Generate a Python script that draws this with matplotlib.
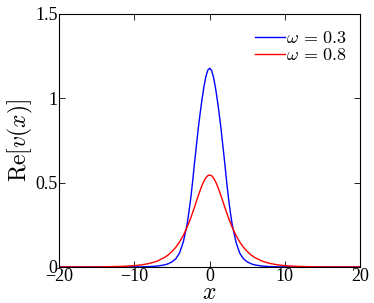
"""Real part of the soliton profile v(x) for two frequencies."""

import matplotlib
matplotlib.use("Agg")
import matplotlib.pyplot as plt

# values
X = [-20, -18, -16, -14, -12, -11, -10, -9, -8, -7, -6, -5.5, -5, -4.5, -4, -3.5,
     -3, -2.75, -2.5, -2.25, -2, -1.75, -1.5, -1.25, -1, -0.75, -0.5, -0.25, 0,
     0.25, 0.5, 0.75, 1, 1.25, 1.5, 1.75, 2, 2.25, 2.5, 2.75, 3, 3.5, 4, 4.5, 5,
     5.5, 6, 7, 8, 9, 10, 11, 12, 14, 16, 18, 20]

V_03 = [0, 0, 0, 0, 0, 0.0001, 0.0003, 0.0008, 0.002, 0.005, 0.012, 0.019, 0.030,
        0.048, 0.082, 0.148, 0.25, 0.325, 0.41, 0.51, 0.62, 0.722, 0.825, 0.915,
        0.997, 1.07, 1.128, 1.166, 1.178,
        1.166, 1.128, 1.07, 0.997, 0.915, 0.825, 0.722, 0.62, 0.51, 0.41, 0.325,
        0.25, 0.148, 0.082, 0.048, 0.030,
        0.019, 0.012, 0.005, 0.002, 0.0008, 0.0003, 0.0001, 0, 0, 0, 0, 0]

V_08 = [0.00005, 0.00014, 0.0004, 0.0011, 0.0029, 0.0047, 0.0077, 0.0127, 0.0208,
        0.034, 0.0558, 0.0713, 0.091, 0.1161, 0.1477, 0.1868,
        0.2351, 0.262, 0.2917, 0.323, 0.3559, 0.390, 0.4231, 0.455, 0.4845,
        0.509, 0.5287, 0.541, 0.545,
        0.541, 0.5287, 0.509, 0.4845, 0.455, 0.4231, 0.390, 0.3559, 0.323,
        0.2917, 0.262, 0.2351, 0.1868, 0.1477, 0.1161, 0.091,
        0.0713, 0.0558, 0.034, 0.0208, 0.0127, 0.0077, 0.0047, 0.0029, 0.0011,
        0.0004, 0.00014, 0.00005]

LABELS = [r"$\omega\,=\,0.3$", r"$\omega\,=\,0.8$"]
X_TICKS = [-20, -10, 0, 10, 20]
Y_TICKS = [0, 0.5, 1, 1.5]
Y_TICK_LABELS = ["0", "0.5", "1", "1.5"]

plt.rcParams.update({
    "font.family": "serif",
    "font.serif": ["Liberation Serif", "DejaVu Serif"],
    "mathtext.fontset": "cm",
    "axes.unicode_minus": True,
})

fig = plt.figure(figsize=(3.74, 3.03), dpi=100)
ax = fig.add_axes([0.158, 0.119, 0.805, 0.835])

ax.plot(X, V_03, color="#0000ff", linewidth=1.0, label=LABELS[0])
ax.plot(X, V_08, color="#ff0000", linewidth=1.0, label=LABELS[1])

ax.set_xlim(-20, 20)
ax.set_ylim(0, 1.5)
ax.set_xticks(X_TICKS)
ax.set_xticklabels([f"{t:d}".replace("-", "\u2212") for t in X_TICKS])
ax.set_yticks(Y_TICKS)
ax.set_yticklabels(Y_TICK_LABELS)
ax.tick_params(direction="in", top=True, right=True, length=4, width=0.6,
               labelsize=13, pad=1, colors="black")
for s in ax.spines.values():
    s.set_linewidth(0.8)

ax.set_xlabel(r"$x$", fontsize=17, labelpad=-2)
ax.set_ylabel(r"$\mathrm{Re}[v(x)]$", fontsize=17, labelpad=0)

ax.legend(loc="upper right", frameon=False, fontsize=13, handlelength=1.65,
          handletextpad=0.1, labelspacing=0.0, borderaxespad=0.3,
          bbox_to_anchor=(1.0, 0.985))

fig.savefig("out.png", dpi=100)
